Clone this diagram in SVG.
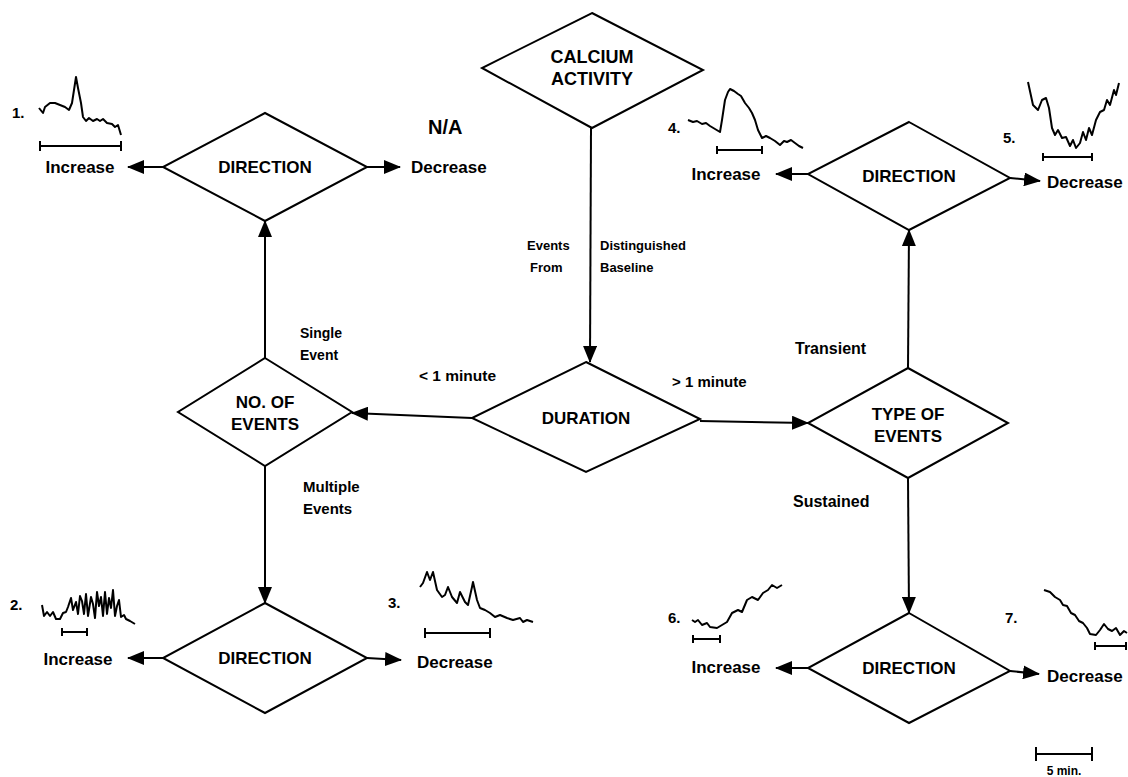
<svg xmlns="http://www.w3.org/2000/svg" width="1128" height="777" viewBox="0 0 1128 777">
<defs>
<style>
.node{fill:#fff;stroke:#000;stroke-width:2}
.nt{font-family:"Liberation Sans",Arial,sans-serif;font-weight:bold;font-size:17px;text-anchor:middle;fill:#000}
.lbl{font-family:"Liberation Sans",Arial,sans-serif;font-weight:bold;font-size:17px;fill:#000}
.el{font-family:"Liberation Sans",Arial,sans-serif;font-weight:bold;font-size:14px;fill:#000}
.num{font-family:"Liberation Sans",Arial,sans-serif;font-weight:bold;font-size:15px;fill:#000}
.edge{fill:none;stroke:#000;stroke-width:2;marker-end:url(#ah)}
.tr{fill:none;stroke:#000;stroke-width:2;stroke-linejoin:round}
.sb{fill:none;stroke:#000;stroke-width:2}
</style>
<marker id="ah" markerUnits="userSpaceOnUse" markerWidth="17" markerHeight="14" refX="16" refY="7" orient="auto">
<path d="M0,0 L17,7 L0,14 z" fill="#000"/>
</marker>
</defs>
<rect width="1128" height="777" fill="#fff"/>

<g id="connectors">
<line class="edge" x1="591" y1="128" x2="590" y2="362"/>
<line class="edge" x1="472" y1="418" x2="352" y2="413"/>
<line class="edge" x1="700" y1="421" x2="808" y2="423"/>
<line class="edge" x1="265" y1="358" x2="265" y2="221"/>
<line class="edge" x1="265" y1="466" x2="265" y2="603"/>
<line class="edge" x1="908" y1="368" x2="909" y2="230"/>
<line class="edge" x1="908" y1="478" x2="909" y2="613"/>
<line class="edge" x1="163" y1="167" x2="128" y2="167"/>
<line class="edge" x1="367" y1="167" x2="400" y2="167"/>
<line class="edge" x1="808" y1="174" x2="776" y2="174"/>
<line class="edge" x1="1010" y1="178" x2="1040" y2="181"/>
<line class="edge" x1="163" y1="658" x2="128" y2="658"/>
<line class="edge" x1="367" y1="658" x2="401" y2="660"/>
<line class="edge" x1="808" y1="668" x2="776" y2="668"/>
<line class="edge" x1="1010" y1="671" x2="1039" y2="674"/>
</g>

<g id="calcium">
<polygon class="node" points="592,13 703,70 592,128 482,68"/>
<text class="nt" x="592" y="63" style="font-size:18px">CALCIUM</text>
<text class="nt" x="592" y="85" style="font-size:18px">ACTIVITY</text>
</g>
<g id="direction-tl">
<polygon class="node" points="265,113 367,167 265,221 163,167"/>
<text class="nt" x="265" y="173">DIRECTION</text>
</g>
<g id="direction-tr">
<polygon class="node" points="909,122 1010,178 909,230 808,174"/>
<text class="nt" x="909" y="182">DIRECTION</text>
</g>
<g id="noevents">
<polygon class="node" points="265,358 352,412 265,466 178,412"/>
<text class="nt" x="265" y="408">NO. OF</text>
<text class="nt" x="265" y="430">EVENTS</text>
</g>
<g id="duration">
<polygon class="node" points="586,362 700,419 586,472 472,418"/>
<text class="nt" x="586" y="424">DURATION</text>
</g>
<g id="typeevents">
<polygon class="node" points="908,368 1008,423 908,478 808,423"/>
<text class="nt" x="908" y="420">TYPE OF</text>
<text class="nt" x="908" y="442">EVENTS</text>
</g>
<g id="direction-bl">
<polygon class="node" points="265,603 367,658 265,713 163,658"/>
<text class="nt" x="265" y="664">DIRECTION</text>
</g>
<g id="direction-br">
<polygon class="node" points="909,613 1010,671 909,723 808,668"/>
<text class="nt" x="909" y="674">DIRECTION</text>
</g>

<g id="outcomes">
<text class="lbl" x="80" y="173" text-anchor="middle">Increase</text>
<text class="lbl" x="411" y="173">Decrease</text>
<text class="lbl" x="428" y="134" style="font-size:20px">N/A</text>
<text class="lbl" x="726" y="180" text-anchor="middle">Increase</text>
<text class="lbl" x="1047" y="188">Decrease</text>
<text class="lbl" x="78" y="665" text-anchor="middle">Increase</text>
<text class="lbl" x="417" y="668">Decrease</text>
<text class="lbl" x="726" y="673" text-anchor="middle">Increase</text>
<text class="lbl" x="1047" y="682">Decrease</text>
</g>

<g id="edge-labels">
<text class="el" x="527" y="250" style="font-size:13px">Events</text>
<text class="el" x="530" y="272" style="font-size:13px">From</text>
<text class="el" x="600" y="250" style="font-size:13px">Distinguished</text>
<text class="el" x="600" y="272" style="font-size:13px">Baseline</text>
<text class="el" x="300" y="338">Single</text>
<text class="el" x="300" y="360">Event</text>
<text class="el" x="419" y="381" style="font-size:15.5px">&lt; 1 minute</text>
<text class="el" x="672" y="387" style="font-size:15px">&gt; 1 minute</text>
<text class="el" x="795" y="354" style="font-size:16px">Transient</text>
<text class="el" x="303" y="492" style="font-size:15px">Multiple</text>
<text class="el" x="303" y="514" style="font-size:15px">Events</text>
<text class="el" x="793" y="507" style="font-size:16px">Sustained</text>
</g>

<g id="traces">
<text class="num" x="12" y="118">1.</text>
<polyline class="tr" points="39,108 43,113 45,107 50,103 55,103 60,105 65,107 69,110 72,103 74,90 76,77 78,88 81,103 83,117 86,121 89,118 93,121 97,119 100,121 103,119 107,123 112,124 115,127 118,125 121,135"/>
<path class="sb" d="M40,146 H121 M40,141 V151 M121,141 V151"/>

<text class="num" x="10" y="610">2.</text>
<polyline class="tr" points="42,605 44,616 47,612 50,616 53,612 56,619 60,619 63,613 66,612 68,607 71,598 73,610 76,602 78,614 80,596 82,601 84,614 86,594 88,616 91,597 93,604 95,618 97,592 99,606 101,597 103,616 105,592 107,614 109,598 111,608 113,590 115,616 117,606 119,600 121,617 124,615 126,619 130,621 135,624"/>
<path class="sb" d="M62,632 H87 M62,628 V636 M87,628 V636"/>

<text class="num" x="388" y="608">3.</text>
<polyline class="tr" points="420,587 423,583 427,572 430,580 433,572 437,590 442,597 445,595 448,587 452,597 457,603 460,592 465,602 468,605 472,587 473,582 477,600 480,608 485,610 490,613 495,617 500,615 507,618 513,620 520,618 523,622 527,620 533,622"/>
<path class="sb" d="M425,633 H490 M425,628 V638 M490,628 V638"/>

<text class="num" x="668" y="133">4.</text>
<polyline class="tr" points="688,120 693,122 697,121 702,124 706,123 710,126 715,129 720,132 722,120 725,100 728,92 730,89 734,91 738,94 741,96 745,103 749,108 752,113 755,120 758,130 762,138 766,136 770,138 775,141 780,145 784,141 787,142 791,140 795,143 799,146 803,148"/>
<path class="sb" d="M717,150 H762 M717,146 V154 M762,146 V154"/>

<text class="num" x="1003" y="143">5.</text>
<polyline class="tr" points="1028,82 1033,105 1038,110 1042,100 1046,98 1049,108 1052,128 1055,135 1058,130 1062,138 1066,137 1070,146 1073,140 1076,148 1080,143 1083,132 1086,140 1089,128 1092,135 1096,120 1100,112 1104,110 1107,100 1110,105 1114,90 1116,95 1119,83"/>
<path class="sb" d="M1043,157 H1092 M1043,153 V161 M1092,153 V161"/>

<text class="num" x="668" y="623">6.</text>
<polyline class="tr" points="692,620 695,622 698,620 702,625 707,623 710,627 717,628 722,625 727,622 732,613 738,610 742,612 747,600 752,597 758,600 763,593 768,590 772,585 777,588 782,585"/>
<path class="sb" d="M693,639 H720 M693,635 V643 M720,635 V643"/>

<text class="num" x="1005" y="623">7.</text>
<polyline class="tr" points="1044,590 1050,592 1055,597 1060,600 1063,605 1067,606 1071,613 1075,615 1079,621 1083,623 1087,628 1090,634 1096,635 1100,630 1104,624 1108,629 1112,631 1116,628 1120,635 1124,631 1127,633"/>
<path class="sb" d="M1095,646 H1126 M1095,642 V650 M1126,642 V650"/>
</g>

<g id="scale">
<path class="sb" d="M1036,754 H1092 M1036,747 V761 M1092,747 V761"/>
<text class="el" x="1064" y="775" text-anchor="middle" style="font-size:12px">5 min.</text>
</g>
</svg>
